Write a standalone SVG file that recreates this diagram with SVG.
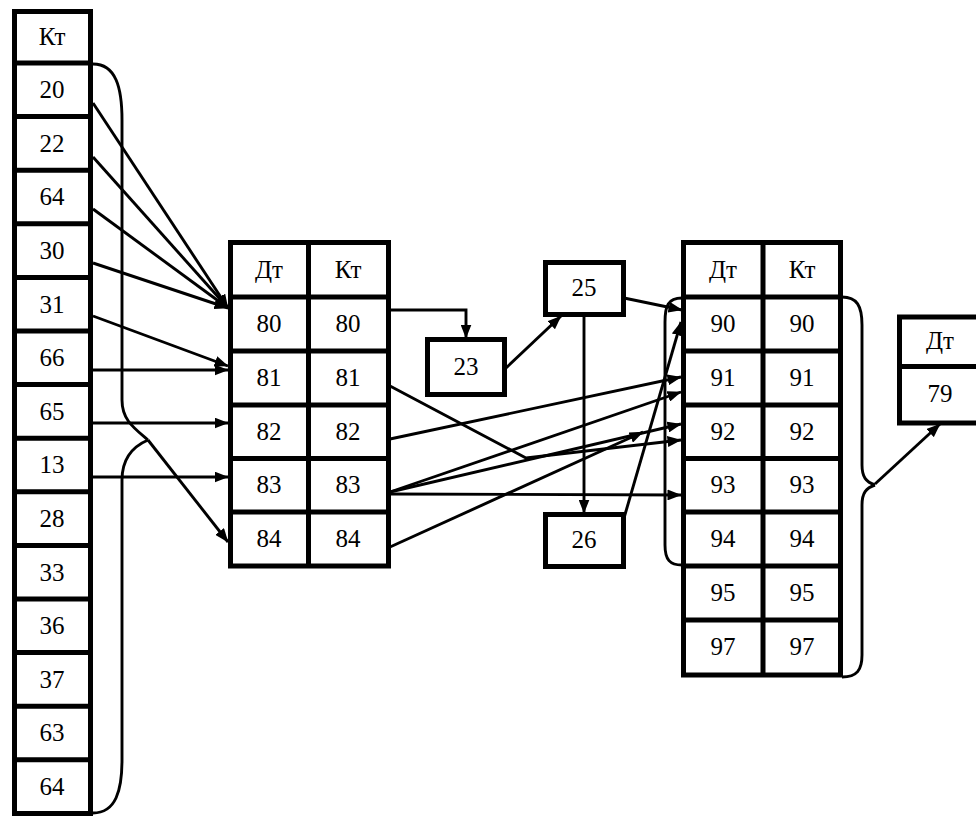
<svg xmlns="http://www.w3.org/2000/svg" width="976" height="817" viewBox="0 0 976 817">
<style>
.box{fill:#fff;stroke:#000;stroke-width:5}
.ln{stroke:#000;stroke-width:5;fill:none}
.t{font-family:"Liberation Serif","Times New Roman",serif;font-size:25px;fill:#000;text-anchor:middle}
.c{stroke:#000;stroke-width:2.9;fill:none}
.a{marker-end:url(#ah)}
</style>
<defs>
<marker id="ah" viewBox="0 0 14 11" refX="13.5" refY="5.5" markerWidth="14" markerHeight="11" orient="auto" markerUnits="userSpaceOnUse">
<path d="M0,0 L14,5.5 L0,11 z" fill="#000"/>
</marker>
</defs>
<rect width="976" height="817" fill="#fff"/>

<g id="left-column">
<rect class="box" x="14.5" y="11.5" width="76" height="802"/>
<path class="ln" d="M14.5,63H90.5M14.5,116.6H90.5M14.5,170.2H90.5M14.5,223.8H90.5M14.5,277.4H90.5M14.5,331H90.5M14.5,384.6H90.5M14.5,438.2H90.5M14.5,491.8H90.5M14.5,545.4H90.5M14.5,599H90.5M14.5,652.6H90.5M14.5,706.2H90.5M14.5,759.8H90.5"/>
<text class="t" x="52" y="45">Кт</text>
<text class="t" x="52" y="98">20</text>
<text class="t" x="52" y="152">22</text>
<text class="t" x="52" y="205">64</text>
<text class="t" x="52" y="259">30</text>
<text class="t" x="52" y="313">31</text>
<text class="t" x="52" y="366">66</text>
<text class="t" x="52" y="420">65</text>
<text class="t" x="52" y="473">13</text>
<text class="t" x="52" y="527">28</text>
<text class="t" x="52" y="581">33</text>
<text class="t" x="52" y="634">36</text>
<text class="t" x="52" y="688">37</text>
<text class="t" x="52" y="741">63</text>
<text class="t" x="52" y="795">64</text>
</g>

<g id="middle-table">
<rect class="box" x="230.5" y="242.5" width="158" height="323.5"/>
<path class="ln" d="M308.5,242.5V566M230.5,297H388.5M230.5,351H388.5M230.5,405H388.5M230.5,458.5H388.5M230.5,512H388.5"/>
<text class="t" x="269" y="278">Дт</text>
<text class="t" x="348" y="278">Кт</text>
<text class="t" x="269" y="332">80</text>
<text class="t" x="348" y="332">80</text>
<text class="t" x="269" y="386">81</text>
<text class="t" x="348" y="386">81</text>
<text class="t" x="269" y="440">82</text>
<text class="t" x="348" y="440">82</text>
<text class="t" x="269" y="493">83</text>
<text class="t" x="348" y="493">83</text>
<text class="t" x="269" y="547">84</text>
<text class="t" x="348" y="547">84</text>
</g>

<g id="box-23">
<rect class="box" x="427.5" y="339.5" width="77" height="55"/>
<text class="t" x="466" y="375">23</text>
</g>
<g id="box-25">
<rect class="box" x="545.5" y="262.5" width="78" height="52"/>
<text class="t" x="584" y="296">25</text>
</g>
<g id="box-26">
<rect class="box" x="545.5" y="514.5" width="78" height="52"/>
<text class="t" x="584" y="548">26</text>
</g>

<g id="right-table">
<rect class="box" x="683.5" y="242.5" width="157" height="432.5"/>
<path class="ln" d="M763,242.5V675M683.5,297H840.5M683.5,351H840.5M683.5,405H840.5M683.5,458.5H840.5M683.5,512H840.5M683.5,566H840.5M683.5,620H840.5"/>
<text class="t" x="723" y="278">Дт</text>
<text class="t" x="802" y="278">Кт</text>
<text class="t" x="723" y="332">90</text>
<text class="t" x="802" y="332">90</text>
<text class="t" x="723" y="386">91</text>
<text class="t" x="802" y="386">91</text>
<text class="t" x="723" y="440">92</text>
<text class="t" x="802" y="440">92</text>
<text class="t" x="723" y="493">93</text>
<text class="t" x="802" y="493">93</text>
<text class="t" x="723" y="547">94</text>
<text class="t" x="802" y="547">94</text>
<text class="t" x="723" y="601">95</text>
<text class="t" x="802" y="601">95</text>
<text class="t" x="723" y="655">97</text>
<text class="t" x="802" y="655">97</text>
</g>

<g id="box-79">
<rect class="box" x="899.5" y="317" width="84" height="106"/>
<path class="ln" d="M899.5,366.5H983.5"/>
<text class="t" x="940" y="349">Дт</text>
<text class="t" x="940" y="402">79</text>
</g>

<g id="connectors">
<path class="c a" d="M93,103L228,308"/>
<path class="c a" d="M93,157L228,308"/>
<path class="c a" d="M93,209L228,308"/>
<path class="c a" d="M93,263L228,308"/>
<path class="c a" d="M93,316L228,366"/>
<path class="c a" d="M93,370L228,370"/>
<path class="c a" d="M93,423L228,423"/>
<path class="c a" d="M93,477L228,477"/>
<path class="c" d="M93,64C116,64 122,88 122,120L122,400C122,420 134,428 148,440"/>
<path class="c" d="M93,813C116,813 122,790 122,760L122,480C122,458 134,446 148,440"/>
<path class="c a" d="M148,440L228,542"/>
<path class="c a" d="M390,310L466,310L466,338"/>
<path class="c a" d="M506,368L561,316"/>
<path class="c a" d="M584,316L584,513"/>
<path class="c a" d="M624,298L682,310"/>
<path class="c a" d="M624,518L681,322"/>
<path class="c a" d="M390,439L681,377"/>
<path class="c a" d="M390,492L681,392"/>
<path class="c a" d="M390,492L681,424"/>
<path class="c a" d="M390,494L681,495"/>
<path class="c a" d="M390,386L526,458L681,440"/>
<path class="c a" d="M390,547L643,432"/>
<path class="c" d="M682,298C668,298 665,306 665,322L665,545C665,560 670,565 682,565"/>
<path class="c" d="M842,297C857,297 862,306 862,325L862,465C862,477 866,482 875,485"/>
<path class="c" d="M875,485C866,488 862,493 862,505L862,655C862,670 857,677 842,677"/>
<path class="c a" d="M875,484L940,424"/>
</g>
</svg>
